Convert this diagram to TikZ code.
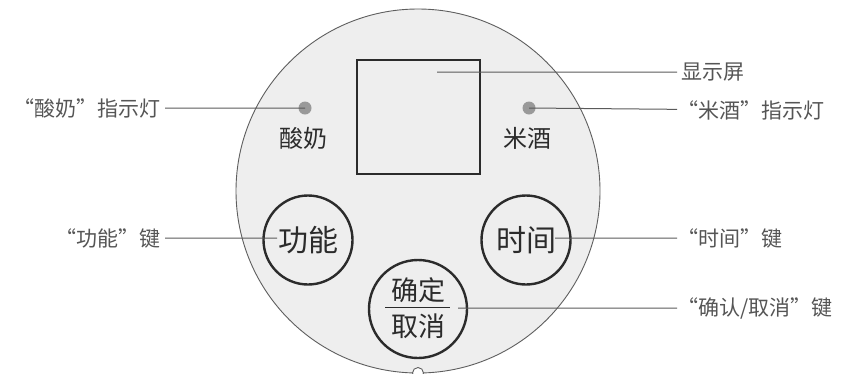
\documentclass[tikz,border=0pt]{standalone}
\usepackage{fontspec}
\newfontfamily\cjk{Noto Sans CJK SC}
\definecolor{panelfill}{HTML}{EEEEEE}
\definecolor{rimgray}{HTML}{5E5E5E}
\definecolor{inkgray}{HTML}{2B2B2B}
\definecolor{ledgray}{HTML}{999999}
\definecolor{leadgray}{HTML}{5A5A5A}
\definecolor{labelgray}{HTML}{555555}

\tikzset{
  lbl/.style={font=\cjk\fontsize{21}{21}\selectfont, text=labelgray, inner sep=4pt},
  lead/.style={draw=leadgray, line width=1pt},
  btn/.style={circle, draw=inkgray, line width=2.4pt, fill=panelfill, minimum size=89pt,
    inner sep=0pt, text=inkgray, font=\cjk\fontsize{30}{30}\selectfont},
  led/.style={circle, fill=ledgray, minimum size=13pt, inner sep=0pt},
  ptext/.style={text=inkgray, inner sep=0pt}
}

\begin{document}
\begin{tikzpicture}[x=1pt,y=-1pt]
  \useasboundingbox (0,0) rectangle (842,373);
  % control panel
  \node[circle, draw=rimgray, line width=0.9pt, fill=panelfill, minimum size=364pt, inner sep=0pt] (panel) at (418,191) {};
  \node[circle, draw=rimgray, line width=0.9pt, fill=white, minimum size=11pt, inner sep=0pt] (notch) at (418,373) {};
  \node[draw=inkgray, line width=2.4pt, minimum width=122.6pt, minimum height=113.6pt, inner sep=0pt] (screen) at (418.5,117) {};
  \node[led] (ledYog) at (305,108) {};
  \node[led] (ledRice) at (529,108) {};
  \node[ptext, font=\cjk\fontsize{24}{24}\selectfont] (nYog) at (303,138) {酸奶};
  \node[ptext, font=\cjk\fontsize{24}{24}\selectfont] (nRice) at (527,138) {米酒};
  % buttons
  \node[btn] (bFunc) at (308,240) {功能};
  \node[btn] (bTime) at (526,240) {时间};
  \node[btn, minimum size=98pt] (bOK) at (418,309) {};
  \node[ptext, font=\cjk\fontsize{27}{27}\selectfont] (nOK) at (418,290) {确定};
  \node[ptext, font=\cjk\fontsize{27}{27}\selectfont] (nCancel) at (418,326) {取消};
  \draw[inkgray, line width=1.4pt] ([xshift=-33pt,yshift=1.3pt]bOK.center) -- ([xshift=32pt,yshift=1.3pt]bOK.center);
  % leader ends
  \coordinate (cScreen) at (437,72);
  \coordinate (cFunc) at (277,238);
  \coordinate (cTime) at (555,238);
  \coordinate (cOK) at (458,308);
  % labels
  \node[lbl, anchor=east] (tYog) at (165,108) {“酸奶”指示灯};
  \node[lbl, anchor=east] (tFunc) at (165,238) {“功能”键};
  \node[lbl, anchor=west] (tScreen) at (677,72) {显示屏};
  \node[lbl, anchor=west, inner xsep=0pt] (tRice) at (677,110) {“米酒”指示灯};
  \node[lbl, anchor=west, inner xsep=0pt] (tTime) at (677,238) {“时间”键};
  \node[lbl, anchor=west, inner xsep=0pt] (tOK) at (677,308) {“确认/取消”键};
  \draw[lead] (tYog) -- (ledYog.center)
              (tFunc) -- (cFunc)
              (cScreen) -- (tScreen)
              (ledRice.center) -- (tRice)
              (cTime) -- (tTime)
              (cOK) -- (tOK);
\end{tikzpicture}
\end{document}
